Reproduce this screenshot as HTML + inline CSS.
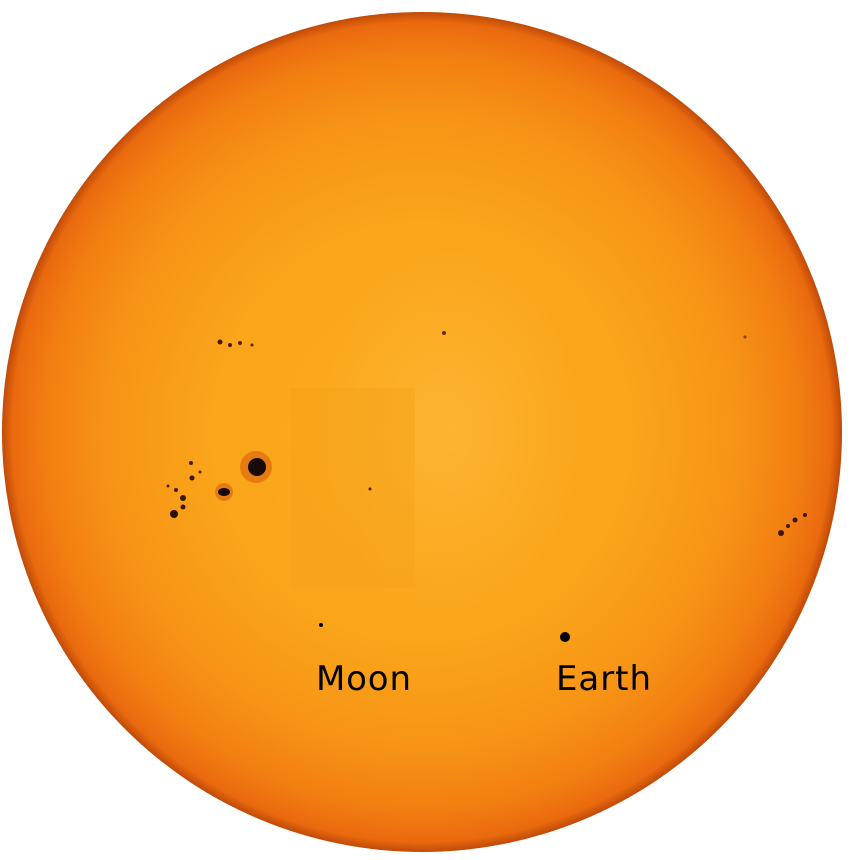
<!DOCTYPE html>
<html><head><meta charset="utf-8"><style>
html,body{margin:0;padding:0;background:#fff;}
svg{display:block;}
</style></head><body>
<svg width="850" height="860" viewBox="0 0 850 860">
<defs>
<radialGradient id="limb" cx="50%" cy="50%" r="50%">
<stop offset="0" stop-color="#fcac1e"/>
<stop offset="0.5" stop-color="#faa51a"/>
<stop offset="0.75" stop-color="#f79416"/>
<stop offset="0.9" stop-color="#f27e12"/>
<stop offset="0.975" stop-color="#ea6a0e"/>
<stop offset="1" stop-color="#c04a08"/>
</radialGradient>
<radialGradient id="glow" cx="50%" cy="50%" r="50%">
<stop offset="0" stop-color="#ffc860" stop-opacity="0.3"/>
<stop offset="1" stop-color="#ffc860" stop-opacity="0"/>
</radialGradient>
</defs>
<circle cx="422" cy="432" r="420" fill="url(#limb)"/>
<ellipse cx="450" cy="430" rx="130" ry="190" fill="url(#glow)"/>
<rect x="290" y="388" width="125" height="200" fill="#f6a01a" opacity="0.4"/>
<g>
<circle cx="256" cy="467" r="16" fill="#e0700f" opacity="0.8"/>
<circle cx="257" cy="467" r="9" fill="#1a0a05"/>
<circle cx="224" cy="492" r="9" fill="#e0700f" opacity="0.8"/>
<ellipse cx="224" cy="492" rx="6" ry="4" fill="#1a0a05"/>
<circle cx="174" cy="514" r="4" fill="#2a1008"/>
<circle cx="183" cy="498" r="3" fill="#3a1508"/>
<circle cx="183" cy="507" r="2.5" fill="#3a1508"/>
<circle cx="192" cy="478" r="2.5" fill="#3a1508"/>
<circle cx="176" cy="490" r="2" fill="#4a1a08"/>
<circle cx="191" cy="463" r="2" fill="#4a1a08"/>
<circle cx="200" cy="472" r="1.5" fill="#5a2008"/>
<circle cx="168" cy="486" r="1.5" fill="#5a2008"/>
</g>
<g>
<circle cx="220" cy="342" r="2.5" fill="#4a1a08"/>
<circle cx="230" cy="345" r="2" fill="#4a1a08"/>
<circle cx="240" cy="343" r="2" fill="#5a2008"/>
<circle cx="252" cy="345" r="1.5" fill="#5a2008"/>
<circle cx="444" cy="333" r="2" fill="#6a2a0a"/>
<circle cx="370" cy="489" r="1.5" fill="#5a2008"/>
</g>
<g>
<circle cx="781" cy="533" r="3" fill="#3a1508"/>
<circle cx="795" cy="520" r="2.5" fill="#3a1508"/>
<circle cx="805" cy="515" r="2" fill="#3a1508"/>
<circle cx="788" cy="526" r="2" fill="#4a1a08"/>
<circle cx="745" cy="337" r="1.5" fill="#8a3a0a"/>
</g>
<circle cx="321" cy="625" r="2" fill="#000"/>
<circle cx="565" cy="637" r="5" fill="#000"/>
<text x="316" y="690" font-family="DejaVu Sans, sans-serif" font-size="34" font-weight="500" textLength="95" fill="#000">Moon</text>
<text x="556" y="690" font-family="DejaVu Sans, sans-serif" font-size="34" font-weight="500" textLength="95" fill="#000">Earth</text>
</svg>
</body></html>
